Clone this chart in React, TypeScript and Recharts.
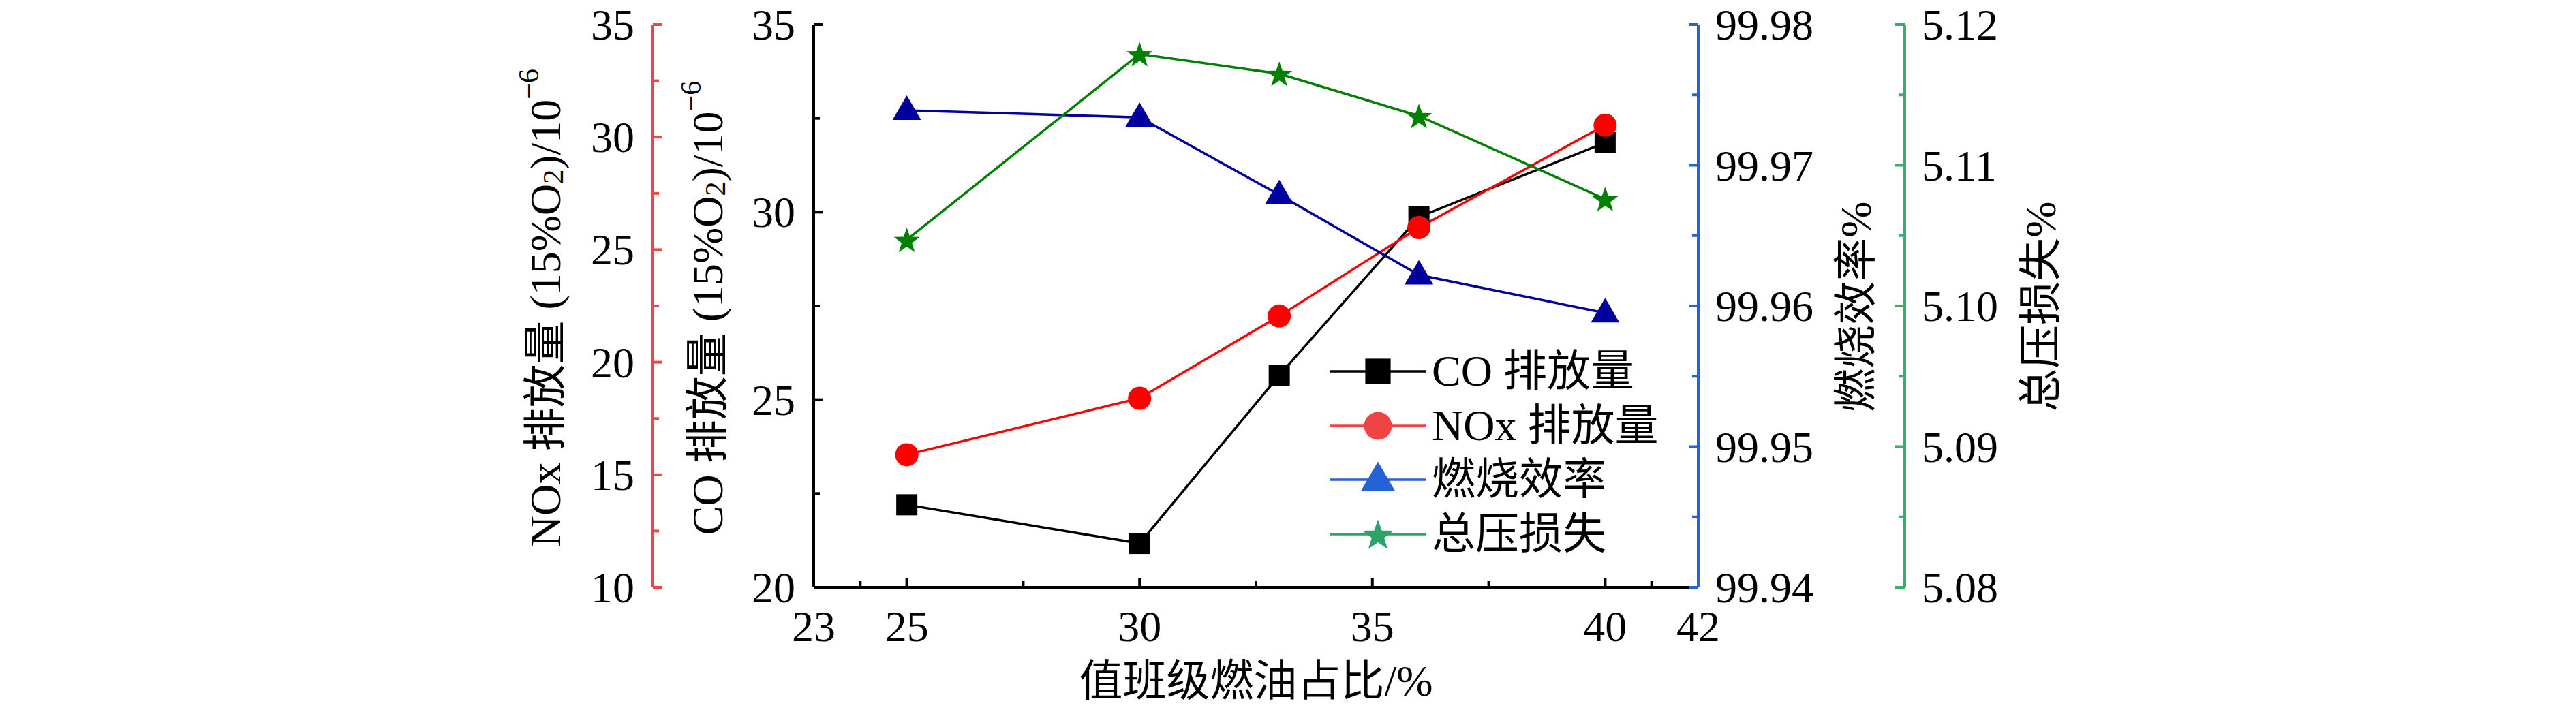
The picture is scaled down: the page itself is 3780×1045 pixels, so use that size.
import React from 'react'
import { LineChart, Line, XAxis, YAxis, Legend, Label } from 'recharts'

// 值班级燃油占比 vs 排放/效率/总压损失
const fuelRatio = [25, 30, 33, 36, 40]
const coEmission = [22.2, 21.17, 25.65, 29.87, 31.85]
const noxEmission = [15.89, 18.4, 22.05, 25.98, 30.53]
const combustionEff = [99.9739, 99.9734, 99.9679, 99.9622, 99.9595]
const pressureLoss = [5.1047, 5.1179, 5.1165, 5.1135, 5.1076]

const xTicks = [23, 24, 25, 27.5, 30, 32.5, 35, 37.5, 40, 41, 42]
const xLabels = [23, 25, 30, 35, 40, 42]
const xMajor = [25, 30, 35, 40]
const coTicks = [20, 22.5, 25, 27.5, 30, 32.5, 35]
const coLabels = [20, 25, 30, 35]
const noxTicks = [10, 12.5, 15, 17.5, 20, 22.5, 25, 27.5, 30, 32.5, 35]
const noxLabels = [10, 15, 20, 25, 30, 35]
const effTicks = [99.94, 99.945, 99.95, 99.955, 99.96, 99.965, 99.97, 99.975, 99.98]
const effLabels = [99.94, 99.95, 99.96, 99.97, 99.98]
const lossTicks = [5.08, 5.085, 5.09, 5.095, 5.1, 5.105, 5.11, 5.115, 5.12]
const lossLabels = [5.08, 5.09, 5.1, 5.11, 5.12]

const legendOrder = ['co', 'nox', 'eff', 'loss']

const data = fuelRatio.map((x, i) => ({
  x,
  co: coEmission[i],
  nox: noxEmission[i],
  eff: combustionEff[i],
  loss: pressureLoss[i],
}))

const FONT = '"Liberation Serif", "Noto Sans CJK SC", serif'
const FS = 64

const RED_AXIS = '#ee4646'
const BLUE_AXIS = '#2463d6'
const GREEN_AXIS = '#38ad6c'

const inList = (list: number[], v: number) => list.some((t) => Math.abs(t - v) < 1e-6)

function makeYTick(side: 'left' | 'right', color: string, labels: number[], digits: number) {
  return (props: any) => {
    const { x, y, payload } = props
    const v = payload.value
    const major = inList(labels, v)
    const len = major ? 14 : 9
    const dir = side === 'left' ? 1 : -1
    return (
      <g>
        <line x1={x} x2={x + dir * len} y1={y} y2={y} stroke={color} strokeWidth={4} />
        {major && (
          <text
            x={side === 'left' ? x - 27 : x + 25}
            y={y + 22}
            textAnchor={side === 'left' ? 'end' : 'start'}
            fontSize={FS}
            fontFamily={FONT}
            fill="#000"
          >
            {v.toFixed(digits)}
          </text>
        )}
      </g>
    )
  }
}

const XTick = (props: any) => {
  const { x, y, payload } = props
  const v = payload.value
  const major = inList(xMajor, v)
  const labelled = inList(xLabels, v)
  const showLine = major || !labelled
  return (
    <g>
      {showLine && (
        <line x1={x} x2={x} y1={y} y2={y - (major ? 14 : 9)} stroke="#000" strokeWidth={4} />
      )}
      {labelled && (
        <text x={x} y={y + 79} textAnchor="middle" fontSize={FS} fontFamily={FONT} fill="#000">
          {v}
        </text>
      )}
    </g>
  )
}

function EmissionTitle({ cx, cy, species }: { cx: number; cy: number; species: string }) {
  return (
    <text
      x={cx}
      y={cy}
      transform={`rotate(-90 ${cx} ${cy})`}
      textAnchor="middle"
      dominantBaseline="central"
      fontSize={FS}
      fontFamily={FONT}
      fill="#000"
    >
      {species} 排放量 (15%O
      <tspan dy={12} fontSize={42}>2</tspan>
      <tspan dy={-12}>)/10</tspan>
      <tspan dy={-24} fontSize={42}>−6</tspan>
    </text>
  )
}

function PlainTitle({ cx, cy, text }: { cx: number; cy: number; text: string }) {
  return (
    <text
      x={cx}
      y={cy}
      transform={`rotate(-90 ${cx} ${cy})`}
      textAnchor="middle"
      dominantBaseline="central"
      fontSize={FS}
      fontFamily={FONT}
      fill="#000"
    >
      {text}
    </text>
  )
}

const starPoints = (cx: number, cy: number, R: number, r: number) => {
  const pts: string[] = []
  for (let k = 0; k < 10; k++) {
    const a = -Math.PI / 2 + (k * Math.PI) / 5
    const rad = k % 2 === 0 ? R : r
    pts.push(`${cx + rad * Math.cos(a)},${cy + rad * Math.sin(a)}`)
  }
  return pts.join(' ')
}

function Marker({ shape, cx, cy, color, s }: { shape: string; cx: number; cy: number; color: string; s: number }) {
  if (shape === 'square') {
    const h = 15.5 * s
    return <rect x={cx - h} y={cy - h} width={2 * h} height={2 * h} fill={color} />
  }
  if (shape === 'circle') {
    return <circle cx={cx} cy={cy} r={17 * s} fill={color} />
  }
  if (shape === 'triangle') {
    const w = 21 * s
    return (
      <polygon
        points={`${cx},${cy - 22 * s} ${cx - w},${cy + 14 * s} ${cx + w},${cy + 14 * s}`}
        fill={color}
      />
    )
  }
  return <polygon points={starPoints(cx, cy + 2 * s, 20 * s, 8 * s)} fill={color} />
}

const makeDot = (shape: string, color: string) => (p: any) => (
  <Marker key={`${shape}-${p.index}`} shape={shape} cx={p.cx} cy={p.cy} color={color} s={1} />
)

const legendStyle: Record<string, { shape: string; color: string }> = {
  co: { shape: 'square', color: '#000000' },
  nox: { shape: 'circle', color: '#f04444' },
  eff: { shape: 'triangle', color: '#2463d6' },
  loss: { shape: 'star', color: '#2ea368' },
}

const renderLegend = (props: any) => {
  const { payload = [] } = props
  const items = [...payload].sort(
    (a: any, b: any) => legendOrder.indexOf(a.dataKey) - legendOrder.indexOf(b.dataKey)
  )
  return (
    <div style={{ fontFamily: FONT, fontSize: FS, color: '#000' }}>
      {items.map((entry: any) => {
        const st = legendStyle[entry.dataKey as string]
        return (
          <div key={entry.value} style={{ display: 'flex', alignItems: 'center', height: 79.5 }}>
            <svg width={142} height={79.5} style={{ display: 'block' }}>
              <line x1={0} x2={142} y1={40} y2={40} stroke={st.color} strokeWidth={3.5} />
              <Marker shape={st.shape} cx={71} cy={40} color={st.color} s={1.2} />
            </svg>
            <span style={{ marginLeft: 8, lineHeight: '79.5px', whiteSpace: 'nowrap' }}>{entry.value}</span>
          </div>
        )
      })}
    </div>
  )
}

export default function App() {
  return (
    <div style={{ position: 'absolute', left: 0, top: 0, background: '#fff' }}>
      <LineChart
        width={3780}
        height={1045}
        data={data}
        margin={{ top: 36, right: 685, bottom: 0, left: 758 }}
      >
        <XAxis
          xAxisId="bottom"
          dataKey="x"
          type="number"
          domain={[23, 42]}
          ticks={xTicks}
          interval={0}
          height={183}
          tickSize={0}
          tickMargin={0}
          tickLine={false}
          tick={XTick}
          axisLine={{ stroke: '#000', strokeWidth: 4 }}
        >
          <Label
            content={(p: any) => {
              const vb = p.viewBox
              return (
                <text
                  x={vb.x + vb.width / 2}
                  y={vb.y + 137}
                  textAnchor="middle"
                  dominantBaseline="central"
                  fontSize={FS}
                  fontFamily={FONT}
                  fill="#000"
                >
                  值班级燃油占比/%
                </text>
              )
            }}
          />
        </XAxis>
        <XAxis
          xAxisId="top"
          orientation="top"
          type="number"
          domain={[23, 42]}
          height={0}
          tick={false}
          tickLine={false}
          axisLine={{ stroke: '#000', strokeWidth: 4 }}
        />
        <YAxis
          yAxisId="co"
          orientation="left"
          type="number"
          domain={[20, 35]}
          ticks={coTicks}
          interval={0}
          width={236}
          tickSize={0}
          tickMargin={0}
          tickLine={false}
          tick={makeYTick('left', '#000', coLabels, 0)}
          axisLine={{ stroke: '#000', strokeWidth: 4 }}
        >
          <Label
            content={(p: any) => {
              const vb = p.viewBox
              return <EmissionTitle cx={vb.x + 80} cy={vb.y + vb.height / 2 + 3} species="CO" />
            }}
          />
        </YAxis>
        <YAxis
          yAxisId="nox"
          orientation="left"
          type="number"
          domain={[10, 35]}
          ticks={noxTicks}
          interval={0}
          width={200}
          tickSize={0}
          tickMargin={0}
          tickLine={false}
          tick={makeYTick('left', RED_AXIS, noxLabels, 0)}
          axisLine={{ stroke: RED_AXIS, strokeWidth: 4 }}
        >
          <Label
            content={(p: any) => {
              const vb = p.viewBox
              return <EmissionTitle cx={vb.x + 42} cy={vb.y + vb.height / 2 + 3} species="NOx" />
            }}
          />
        </YAxis>
        <YAxis
          yAxisId="eff"
          orientation="right"
          type="number"
          domain={[99.94, 99.98]}
          ticks={effTicks}
          interval={0}
          width={303}
          tickSize={0}
          tickMargin={0}
          tickLine={false}
          tick={makeYTick('right', BLUE_AXIS, effLabels, 2)}
          axisLine={{ stroke: BLUE_AXIS, strokeWidth: 4 }}
        >
          <Label
            content={(p: any) => {
              const vb = p.viewBox
              return <PlainTitle cx={vb.x + 231} cy={vb.y + vb.height / 2 + 1} text="燃烧效率%" />
            }}
          />
        </YAxis>
        <YAxis
          yAxisId="loss"
          orientation="right"
          type="number"
          domain={[5.08, 5.12]}
          ticks={lossTicks}
          interval={0}
          width={300}
          tickSize={0}
          tickMargin={0}
          tickLine={false}
          tick={makeYTick('right', GREEN_AXIS, lossLabels, 2)}
          axisLine={{ stroke: GREEN_AXIS, strokeWidth: 4 }}
        >
          <Label
            content={(p: any) => {
              const vb = p.viewBox
              return <PlainTitle cx={vb.x + 199} cy={vb.y + vb.height / 2 + 1} text="总压损失%" />
            }}
          />
        </YAxis>
        <Legend
          layout="horizontal"
          verticalAlign="middle"
          align="center"
          content={renderLegend}
          wrapperStyle={{ position: 'absolute', left: 1951, top: 505, width: 560, height: 318 }}
        />
        <Line
          xAxisId="bottom"
          yAxisId="co"
          dataKey="co"
          name="CO 排放量"
          stroke="#000"
          strokeWidth={3.5}
          dot={makeDot('square', '#000')}
          activeDot={false}
          isAnimationActive={false}
        />
        <Line
          xAxisId="bottom"
          yAxisId="nox"
          dataKey="nox"
          name="NOx 排放量"
          stroke="#ff0000"
          strokeWidth={3.5}
          dot={makeDot('circle', '#ff0000')}
          activeDot={false}
          isAnimationActive={false}
        />
        <Line
          xAxisId="bottom"
          yAxisId="eff"
          dataKey="eff"
          name="燃烧效率"
          stroke="#00009f"
          strokeWidth={3.5}
          dot={makeDot('triangle', '#00009f')}
          activeDot={false}
          isAnimationActive={false}
        />
        <Line
          xAxisId="bottom"
          yAxisId="loss"
          dataKey="loss"
          name="总压损失"
          stroke="#008000"
          strokeWidth={3.5}
          dot={makeDot('star', '#008000')}
          activeDot={false}
          isAnimationActive={false}
        />
      </LineChart>
    </div>
  )
}
